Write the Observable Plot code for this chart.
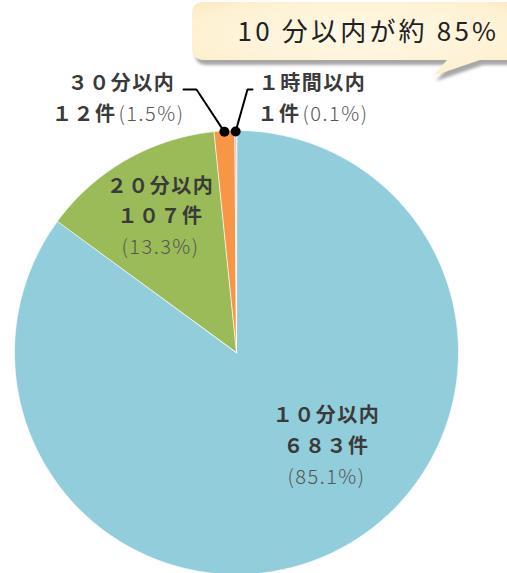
<!DOCTYPE html>
<html><head><meta charset="utf-8">
<script src="https://cdn.jsdelivr.net/npm/d3@7"></script>
<script src="https://cdn.jsdelivr.net/npm/@observablehq/plot@0.6"></script>
<style>
body{margin:0;background:#fff;overflow:hidden}
#chart{position:relative;width:507px;height:573px;overflow:hidden}
</style>
</head><body><div id="chart"></div>
<script>
// ---- data ----
const categories = ["１０分以内", "２０分以内", "３０分以内", "１時間以内"];
const countLabels = ["６８３件", "１０７件", "１２件", "１件"];
const counts = [683, 107, 12, 1];
const percentLabels = ["(85.1%)", "(13.3%)", "(1.5%)", "(0.1%)"];
const sliceColors = ["#92CDDC", "#9BBB59", "#F79646", "#E6B9B8"];
const titleText = "10 分以内が約 85%";

// ---- layout ----
const W = 507, H = 573;
const cx = 236, cy = 352, R = 222;
const FONT = "'Noto Sans CJK JP', 'Noto Sans', sans-serif";
const labelLayout = [
  {mode: "in", x: 326, y: [421, 452, 483]},
  {mode: "in", x: 160, y: [192, 222, 253]},
  {mode: "out", x1: 121, y1: 89, xc: 116, xp: 118, y2: 120, leader: [[183, 89], [196, 89]]},
  {mode: "out", x1: 312, y1: 89, xc: 300, xp: 302, y2: 120, leader: [[252, 89], [247, 89]]}
];

const total = d3.sum(counts);
const pt = (a, r) => ({x: cx + r * Math.sin(a), y: cy - r * Math.cos(a)});

let acc = 0;
const wedges = [];
const slices = categories.map((c, i) => {
  const a0 = acc / total * 2 * Math.PI;
  acc += counts[i];
  const a1 = acc / total * 2 * Math.PI;
  const n = Math.max(2, Math.ceil((a1 - a0) / (Math.PI / 720)));
  wedges.push({cat: c, color: sliceColors[i], x: cx, y: cy});
  for (let k = 0; k <= n; k++) {
    const p = pt(a0 + (a1 - a0) * k / n, R);
    wedges.push({cat: c, color: sliceColors[i], x: p.x, y: p.y});
  }
  return {cat: c, i, a0, a1, mid: (a0 + a1) / 2};
});

const inMain = [], inPct = [];
const outMain = [], outCount = [], outPct = [], dots = [], leaders = [];
slices.forEach(s => {
  const L = labelLayout[s.i];
  if (L.mode === "in") {
    inMain.push({x: L.x, y: L.y[0], t: categories[s.i]});
    inMain.push({x: L.x, y: L.y[1], t: countLabels[s.i]});
    inPct.push({x: L.x, y: L.y[2], t: percentLabels[s.i]});
  } else {
    outMain.push({x: L.x1, y: L.y1, t: categories[s.i]});
    outCount.push({x: L.xc, y: L.y2, t: countLabels[s.i]});
    outPct.push({x: L.xp, y: L.y2, t: percentLabels[s.i]});
    const d = pt(s.mid, R - 1);
    dots.push(d);
    L.leader.forEach(p => leaders.push({cat: s.cat, x: p[0], y: p[1]}));
    leaders.push({cat: s.cat, x: d.x, y: d.y});
  }
});

const mainStyle = {fontSize: 20, fill: "#3a3a3a", fontWeight: 700, fontFamily: FONT};
const pctStyle = {fontSize: 20, fill: "#555", fontWeight: 300, fontFamily: FONT};

const chart = Plot.plot({
  width: W, height: H,
  margin: 0,
  x: {domain: [0, W], range: [0, W], axis: null},
  y: {domain: [0, H], range: [0, H], axis: null},
  style: {background: "#fff", fontFamily: FONT},
  marks: [
    Plot.line(wedges, {x: "x", y: "y", z: "cat", fill: "color", stroke: "#fff", strokeWidth: 0.7, curve: "linear-closed"}),
    Plot.line(leaders, {x: "x", y: "y", z: "cat", stroke: "#000", strokeWidth: 2}),
    Plot.dot(dots, {x: "x", y: "y", r: 5, fill: "#000", stroke: "none"}),
    Plot.text(inMain, {x: "x", y: "y", text: "t", lineAnchor: "bottom", textAnchor: "middle", ...mainStyle}),
    Plot.text(inPct, {x: "x", y: "y", text: "t", lineAnchor: "bottom", textAnchor: "middle", ...pctStyle}),
    Plot.text(outMain, {x: "x", y: "y", text: "t", lineAnchor: "bottom", textAnchor: "middle", ...mainStyle}),
    Plot.text(outCount, {x: "x", y: "y", text: "t", lineAnchor: "bottom", textAnchor: "end", ...mainStyle}),
    Plot.text(outPct, {x: "x", y: "y", text: "t", lineAnchor: "bottom", textAnchor: "start", ...pctStyle}),
    Plot.text([titleText], {x: () => 237, y: () => 40, text: d => d, lineAnchor: "bottom", textAnchor: "start", fontSize: 26, fill: "#222", fontFamily: FONT, className: "title"})
  ]
});

const svg = d3.select(chart);
svg.selectAll("text").style("letter-spacing", "1.5px");
svg.selectAll(".title text").style("letter-spacing", "3.2px");

// speech bubble behind title
const defs = svg.append("defs");
const g = defs.append("radialGradient").attr("id", "bubbleFill").attr("cx", "50%").attr("cy", "45%").attr("r", "75%");
g.append("stop").attr("offset", "0%").attr("stop-color", "#FFF8E6");
g.append("stop").attr("offset", "70%").attr("stop-color", "#FEF1D2");
g.append("stop").attr("offset", "100%").attr("stop-color", "#FAE6B4");
const f = defs.append("filter").attr("id", "bshadow").attr("x", "-10%").attr("y", "-20%").attr("width", "130%").attr("height", "160%");
f.append("feGaussianBlur").attr("stdDeviation", 1.6);
const bx0 = 192, by0 = 2, bx1 = 530, by1 = 60, br = 12;
const bubblePath = `M${bx0 + br},${by0} H${bx1} V${by1} H480 L433,76 L447,${by1} H${bx0 + br} Q${bx0},${by1} ${bx0},${by1 - br} V${by0 + br} Q${bx0},${by0} ${bx0 + br},${by0} Z`;
const bg = svg.insert("g", ":first-child").attr("class", "bubble");
bg.append("path").attr("d", bubblePath).attr("transform", "translate(3,5)").attr("fill", "#8a8a8a").attr("opacity", 0.75).attr("filter", "url(#bshadow)");
bg.append("path").attr("d", bubblePath).attr("fill", "url(#bubbleFill)");

document.getElementById("chart").appendChild(chart);
</script>
</body></html>
